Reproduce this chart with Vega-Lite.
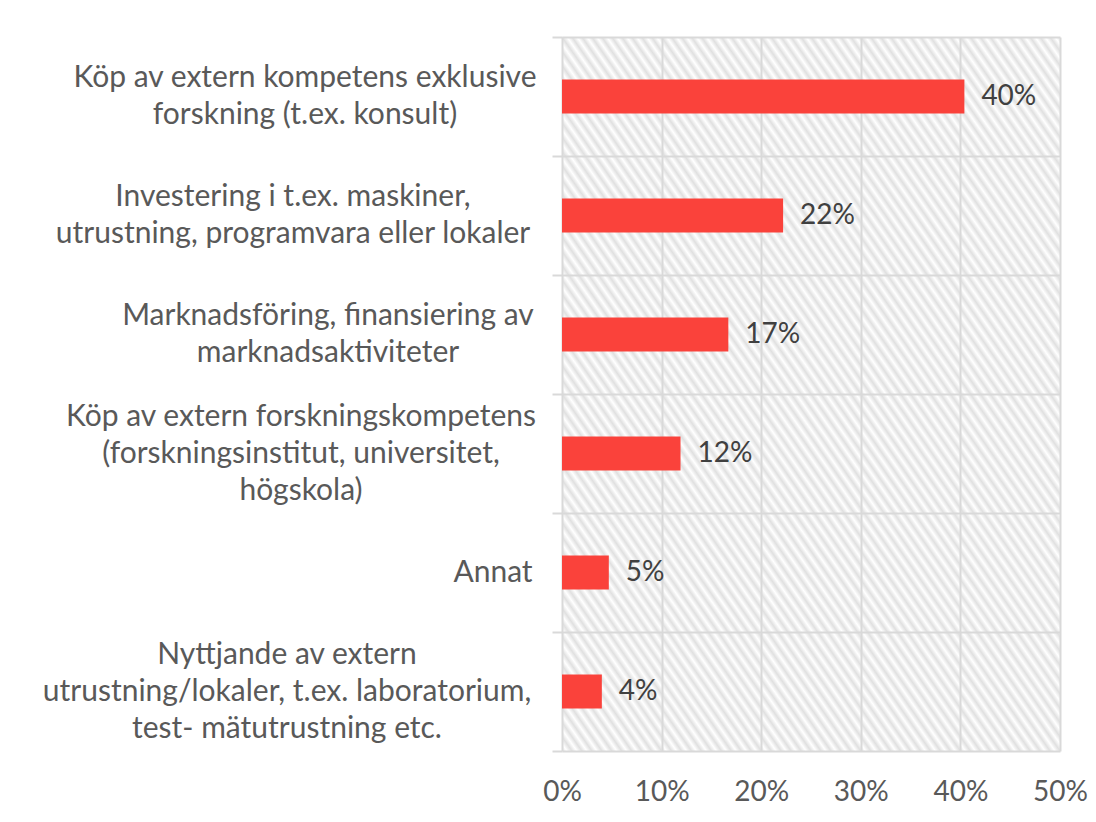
{
  "$schema": "https://vega.github.io/schema/vega-lite/v6.json",
  "width": 498,
  "height": 714,
  "autosize": "none",
  "padding": {"left": 562, "top": 37, "right": 36, "bottom": 71},
  "background": "white",
  "config": {
    "view": {
      "stroke": null,
      "fill": {
        "gradient": "linear",
        "x1": 0, "y1": 1, "x2": 1, "y2": 0,
        "stops": [
          {"offset": 0, "color": "#e0e0e0"}, {"offset": 0.005, "color": "#fff"},
          {"offset": 0.01, "color": "#e0e0e0"}, {"offset": 0.015, "color": "#fff"},
          {"offset": 0.02, "color": "#e0e0e0"}, {"offset": 0.025, "color": "#fff"},
          {"offset": 0.03, "color": "#e0e0e0"}, {"offset": 0.035, "color": "#fff"},
          {"offset": 0.04, "color": "#e0e0e0"}, {"offset": 0.045, "color": "#fff"},
          {"offset": 0.05, "color": "#e0e0e0"}, {"offset": 0.055, "color": "#fff"},
          {"offset": 0.06, "color": "#e0e0e0"}, {"offset": 0.065, "color": "#fff"},
          {"offset": 0.07, "color": "#e0e0e0"}, {"offset": 0.075, "color": "#fff"},
          {"offset": 0.08, "color": "#e0e0e0"}, {"offset": 0.085, "color": "#fff"},
          {"offset": 0.09, "color": "#e0e0e0"}, {"offset": 0.095, "color": "#fff"},
          {"offset": 0.1, "color": "#e0e0e0"}, {"offset": 0.105, "color": "#fff"},
          {"offset": 0.11, "color": "#e0e0e0"}, {"offset": 0.115, "color": "#fff"},
          {"offset": 0.12, "color": "#e0e0e0"}, {"offset": 0.125, "color": "#fff"},
          {"offset": 0.13, "color": "#e0e0e0"}, {"offset": 0.135, "color": "#fff"},
          {"offset": 0.14, "color": "#e0e0e0"}, {"offset": 0.145, "color": "#fff"},
          {"offset": 0.15, "color": "#e0e0e0"}, {"offset": 0.155, "color": "#fff"},
          {"offset": 0.16, "color": "#e0e0e0"}, {"offset": 0.165, "color": "#fff"},
          {"offset": 0.17, "color": "#e0e0e0"}, {"offset": 0.175, "color": "#fff"},
          {"offset": 0.18, "color": "#e0e0e0"}, {"offset": 0.185, "color": "#fff"},
          {"offset": 0.19, "color": "#e0e0e0"}, {"offset": 0.195, "color": "#fff"},
          {"offset": 0.2, "color": "#e0e0e0"}, {"offset": 0.205, "color": "#fff"},
          {"offset": 0.21, "color": "#e0e0e0"}, {"offset": 0.215, "color": "#fff"},
          {"offset": 0.22, "color": "#e0e0e0"}, {"offset": 0.225, "color": "#fff"},
          {"offset": 0.23, "color": "#e0e0e0"}, {"offset": 0.235, "color": "#fff"},
          {"offset": 0.24, "color": "#e0e0e0"}, {"offset": 0.245, "color": "#fff"},
          {"offset": 0.25, "color": "#e0e0e0"}, {"offset": 0.255, "color": "#fff"},
          {"offset": 0.26, "color": "#e0e0e0"}, {"offset": 0.265, "color": "#fff"},
          {"offset": 0.27, "color": "#e0e0e0"}, {"offset": 0.275, "color": "#fff"},
          {"offset": 0.28, "color": "#e0e0e0"}, {"offset": 0.285, "color": "#fff"},
          {"offset": 0.29, "color": "#e0e0e0"}, {"offset": 0.295, "color": "#fff"},
          {"offset": 0.3, "color": "#e0e0e0"}, {"offset": 0.305, "color": "#fff"},
          {"offset": 0.31, "color": "#e0e0e0"}, {"offset": 0.315, "color": "#fff"},
          {"offset": 0.32, "color": "#e0e0e0"}, {"offset": 0.325, "color": "#fff"},
          {"offset": 0.33, "color": "#e0e0e0"}, {"offset": 0.335, "color": "#fff"},
          {"offset": 0.34, "color": "#e0e0e0"}, {"offset": 0.345, "color": "#fff"},
          {"offset": 0.35, "color": "#e0e0e0"}, {"offset": 0.355, "color": "#fff"},
          {"offset": 0.36, "color": "#e0e0e0"}, {"offset": 0.365, "color": "#fff"},
          {"offset": 0.37, "color": "#e0e0e0"}, {"offset": 0.375, "color": "#fff"},
          {"offset": 0.38, "color": "#e0e0e0"}, {"offset": 0.385, "color": "#fff"},
          {"offset": 0.39, "color": "#e0e0e0"}, {"offset": 0.395, "color": "#fff"},
          {"offset": 0.4, "color": "#e0e0e0"}, {"offset": 0.405, "color": "#fff"},
          {"offset": 0.41, "color": "#e0e0e0"}, {"offset": 0.415, "color": "#fff"},
          {"offset": 0.42, "color": "#e0e0e0"}, {"offset": 0.425, "color": "#fff"},
          {"offset": 0.43, "color": "#e0e0e0"}, {"offset": 0.435, "color": "#fff"},
          {"offset": 0.44, "color": "#e0e0e0"}, {"offset": 0.445, "color": "#fff"},
          {"offset": 0.45, "color": "#e0e0e0"}, {"offset": 0.455, "color": "#fff"},
          {"offset": 0.46, "color": "#e0e0e0"}, {"offset": 0.465, "color": "#fff"},
          {"offset": 0.47, "color": "#e0e0e0"}, {"offset": 0.475, "color": "#fff"},
          {"offset": 0.48, "color": "#e0e0e0"}, {"offset": 0.485, "color": "#fff"},
          {"offset": 0.49, "color": "#e0e0e0"}, {"offset": 0.495, "color": "#fff"},
          {"offset": 0.5, "color": "#e0e0e0"}, {"offset": 0.505, "color": "#fff"},
          {"offset": 0.51, "color": "#e0e0e0"}, {"offset": 0.515, "color": "#fff"},
          {"offset": 0.52, "color": "#e0e0e0"}, {"offset": 0.525, "color": "#fff"},
          {"offset": 0.53, "color": "#e0e0e0"}, {"offset": 0.535, "color": "#fff"},
          {"offset": 0.54, "color": "#e0e0e0"}, {"offset": 0.545, "color": "#fff"},
          {"offset": 0.55, "color": "#e0e0e0"}, {"offset": 0.555, "color": "#fff"},
          {"offset": 0.56, "color": "#e0e0e0"}, {"offset": 0.565, "color": "#fff"},
          {"offset": 0.57, "color": "#e0e0e0"}, {"offset": 0.575, "color": "#fff"},
          {"offset": 0.58, "color": "#e0e0e0"}, {"offset": 0.585, "color": "#fff"},
          {"offset": 0.59, "color": "#e0e0e0"}, {"offset": 0.595, "color": "#fff"},
          {"offset": 0.6, "color": "#e0e0e0"}, {"offset": 0.605, "color": "#fff"},
          {"offset": 0.61, "color": "#e0e0e0"}, {"offset": 0.615, "color": "#fff"},
          {"offset": 0.62, "color": "#e0e0e0"}, {"offset": 0.625, "color": "#fff"},
          {"offset": 0.63, "color": "#e0e0e0"}, {"offset": 0.635, "color": "#fff"},
          {"offset": 0.64, "color": "#e0e0e0"}, {"offset": 0.645, "color": "#fff"},
          {"offset": 0.65, "color": "#e0e0e0"}, {"offset": 0.655, "color": "#fff"},
          {"offset": 0.66, "color": "#e0e0e0"}, {"offset": 0.665, "color": "#fff"},
          {"offset": 0.67, "color": "#e0e0e0"}, {"offset": 0.675, "color": "#fff"},
          {"offset": 0.68, "color": "#e0e0e0"}, {"offset": 0.685, "color": "#fff"},
          {"offset": 0.69, "color": "#e0e0e0"}, {"offset": 0.695, "color": "#fff"},
          {"offset": 0.7, "color": "#e0e0e0"}, {"offset": 0.705, "color": "#fff"},
          {"offset": 0.71, "color": "#e0e0e0"}, {"offset": 0.715, "color": "#fff"},
          {"offset": 0.72, "color": "#e0e0e0"}, {"offset": 0.725, "color": "#fff"},
          {"offset": 0.73, "color": "#e0e0e0"}, {"offset": 0.735, "color": "#fff"},
          {"offset": 0.74, "color": "#e0e0e0"}, {"offset": 0.745, "color": "#fff"},
          {"offset": 0.75, "color": "#e0e0e0"}, {"offset": 0.755, "color": "#fff"},
          {"offset": 0.76, "color": "#e0e0e0"}, {"offset": 0.765, "color": "#fff"},
          {"offset": 0.77, "color": "#e0e0e0"}, {"offset": 0.775, "color": "#fff"},
          {"offset": 0.78, "color": "#e0e0e0"}, {"offset": 0.785, "color": "#fff"},
          {"offset": 0.79, "color": "#e0e0e0"}, {"offset": 0.795, "color": "#fff"},
          {"offset": 0.8, "color": "#e0e0e0"}, {"offset": 0.805, "color": "#fff"},
          {"offset": 0.81, "color": "#e0e0e0"}, {"offset": 0.815, "color": "#fff"},
          {"offset": 0.82, "color": "#e0e0e0"}, {"offset": 0.825, "color": "#fff"},
          {"offset": 0.83, "color": "#e0e0e0"}, {"offset": 0.835, "color": "#fff"},
          {"offset": 0.84, "color": "#e0e0e0"}, {"offset": 0.845, "color": "#fff"},
          {"offset": 0.85, "color": "#e0e0e0"}, {"offset": 0.855, "color": "#fff"},
          {"offset": 0.86, "color": "#e0e0e0"}, {"offset": 0.865, "color": "#fff"},
          {"offset": 0.87, "color": "#e0e0e0"}, {"offset": 0.875, "color": "#fff"},
          {"offset": 0.88, "color": "#e0e0e0"}, {"offset": 0.885, "color": "#fff"},
          {"offset": 0.89, "color": "#e0e0e0"}, {"offset": 0.895, "color": "#fff"},
          {"offset": 0.9, "color": "#e0e0e0"}, {"offset": 0.905, "color": "#fff"},
          {"offset": 0.91, "color": "#e0e0e0"}, {"offset": 0.915, "color": "#fff"},
          {"offset": 0.92, "color": "#e0e0e0"}, {"offset": 0.925, "color": "#fff"},
          {"offset": 0.93, "color": "#e0e0e0"}, {"offset": 0.935, "color": "#fff"},
          {"offset": 0.94, "color": "#e0e0e0"}, {"offset": 0.945, "color": "#fff"},
          {"offset": 0.95, "color": "#e0e0e0"}, {"offset": 0.955, "color": "#fff"},
          {"offset": 0.96, "color": "#e0e0e0"}, {"offset": 0.965, "color": "#fff"},
          {"offset": 0.97, "color": "#e0e0e0"}, {"offset": 0.975, "color": "#fff"},
          {"offset": 0.98, "color": "#e0e0e0"}, {"offset": 0.985, "color": "#fff"},
          {"offset": 0.99, "color": "#e0e0e0"}, {"offset": 0.995, "color": "#fff"},
          {"offset": 1, "color": "#e0e0e0"}
        ]
      }
    },
    "font": "Lato"
  },
  "data": {
    "values": [
      {"kategori": "Köp av extern kompetens exklusive|forskning (t.ex. konsult)", "andel": 0.404},
      {"kategori": "Investering i t.ex. maskiner,|utrustning, programvara eller lokaler", "andel": 0.222},
      {"kategori": "Marknadsföring, finansiering av|marknadsaktiviteter", "andel": 0.167},
      {"kategori": "Köp av extern forskningskompetens|(forskningsinstitut, universitet,|högskola)", "andel": 0.119},
      {"kategori": "Annat", "andel": 0.047},
      {"kategori": "Nyttjande av extern|utrustning/lokaler, t.ex. laboratorium,|test- mätutrustning etc.", "andel": 0.04}
    ]
  },
  "encoding": {
    "y": {
      "field": "kategori",
      "type": "nominal",
      "sort": null,
      "scale": {"paddingInner": 0, "paddingOuter": 0},
      "axis": {
        "title": null,
        "labels": false,
        "tickBand": "extent",
        "grid": true,
        "gridColor": "#d9d9d9",
        "gridWidth": 2,
        "ticks": true,
        "tickSize": 10,
        "tickColor": "#d9d9d9",
        "tickWidth": 2,
        "domain": false
      }
    },
    "x": {
      "field": "andel",
      "type": "quantitative",
      "scale": {"domain": [0, 0.5], "nice": false},
      "axis": {
        "title": null,
        "values": [0, 0.1, 0.2, 0.3, 0.4, 0.5],
        "format": ".0%",
        "labelFontSize": 28,
        "labelFont": "Lato",
        "labelColor": "#595959",
        "labelPadding": 27,
        "labelFlush": false,
        "ticks": false,
        "domain": false,
        "grid": true,
        "gridColor": "#d9d9d9",
        "gridWidth": 2
      }
    }
  },
  "layer": [
    {"mark": {"type": "bar", "color": "#fa423b", "height": {"band": 0.286}}},
    {
      "mark": {"type": "text", "align": "left", "baseline": "middle", "dx": 17, "fontSize": 28, "font": "Lato", "color": "#404040"},
      "encoding": {"text": {"field": "andel", "type": "quantitative", "format": ".0%"}}
    },
    {
      "mark": {
        "type": "text",
        "align": "center",
        "baseline": "middle",
        "lineBreak": "|",
        "lineHeight": 37,
        "fontSize": 30,
        "font": "Lato",
        "color": "#595959",
        "dx": {"expr": "indexof(datum.kategori, 'Annat') === 0 ? -69 : indexof(datum.kategori, 'Köp av extern kompetens') === 0 ? -257 : indexof(datum.kategori, 'Investering') === 0 ? -269 : indexof(datum.kategori, 'Marknads') === 0 ? -234 : indexof(datum.kategori, 'Köp av extern forsk') === 0 ? -261 : -275"},
        "dy": {"expr": "-(length(split(datum.kategori, '|')) - 1) * 18.5"}
      },
      "encoding": {
        "x": {"datum": 0},
        "text": {"field": "kategori", "type": "nominal"}
      }
    }
  ]
}
